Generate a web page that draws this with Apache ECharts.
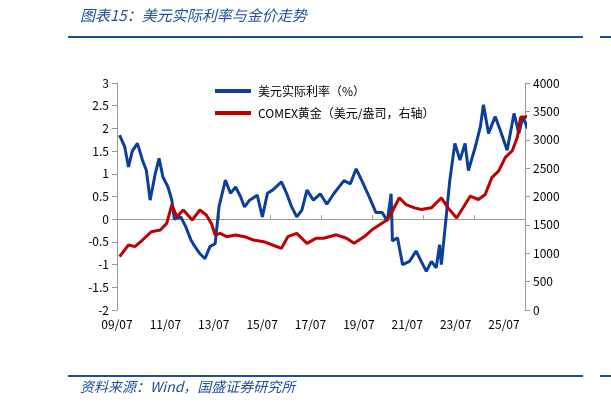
<!DOCTYPE html>
<html><head><meta charset="utf-8">
<script src="https://cdn.jsdelivr.net/npm/echarts@6/dist/echarts.min.js"></script>
<style>html,body{margin:0;padding:0;background:#fff}#c{width:611px;height:410px}</style>
</head><body><div id="c"></div>
<script>
const xTickLabels = ['09/07','11/07','13/07','15/07','17/07','19/07','21/07','23/07','25/07'];
const rateTimes = [2009.6,2009.8,2009.95,2010.1,2010.3,2010.5,2010.65,2010.8,2011.0,2011.15,2011.3,2011.5,2011.65,2011.75,2012.0,2012.2,2012.4,2012.55,2012.75,2012.95,2013.15,2013.35,2013.5,2013.75,2013.95,2014.15,2014.35,2014.5,2014.7,2015.0,2015.2,2015.4,2015.6,2015.95,2016.15,2016.35,2016.55,2016.75,2016.95,2017.2,2017.47,2017.73,2018.0,2018.4,2018.65,2018.88,2019.1,2019.4,2019.65,2019.9,2020.1,2020.25,2020.3,2020.5,2020.7,2020.97,2021.23,2021.43,2021.63,2021.83,2022.02,2022.15,2022.22,2022.42,2022.55,2022.75,2022.95,2023.15,2023.28,2023.55,2023.75,2023.87,2024.07,2024.33,2024.53,2024.8,2025.07,2025.26,2025.42,2025.6];
const rateValues = [1.85,1.6,1.15,1.5,1.67,1.3,1.08,0.42,1.0,1.34,0.93,0.71,0.42,0.0,0.05,-0.17,-0.46,-0.6,-0.76,-0.87,-0.6,-0.54,0.27,0.86,0.57,0.71,0.49,0.27,0.42,0.53,0.05,0.57,0.64,0.82,0.57,0.27,0.05,0.2,0.64,0.42,0.56,0.33,0.56,0.85,0.78,1.11,0.85,0.48,0.15,0.15,-0.04,0.56,-0.48,-0.41,-1.0,-0.93,-0.7,-0.93,-1.15,-0.93,-1.07,-0.56,-1.0,0.11,0.85,1.67,1.3,1.67,1.07,1.59,2.04,2.52,1.89,2.26,1.96,1.52,2.33,1.89,2.26,2.0];
const goldTimes = [2009.6,2009.95,2010.2,2010.5,2010.85,2011.2,2011.45,2011.65,2011.85,2012.1,2012.45,2012.75,2013.0,2013.2,2013.35,2013.55,2013.8,2014.15,2014.5,2014.85,2015.25,2015.6,2015.95,2016.2,2016.55,2016.95,2017.3,2017.6,2018.1,2018.5,2018.8,2019.2,2019.5,2019.8,2020.1,2020.3,2020.57,2020.83,2021.17,2021.43,2021.83,2022.22,2022.48,2022.82,2023.15,2023.35,2023.67,2023.94,2024.2,2024.47,2024.73,2025.0,2025.2,2025.33,2025.53,2025.65];
const goldValues = [940,1145,1116,1233,1380,1410,1527,1850,1645,1762,1586,1762,1674,1527,1322,1351,1292,1322,1292,1233,1204,1145,1087,1292,1351,1175,1263,1265,1325,1265,1176,1295,1413,1502,1591,1740,1977,1858,1800,1770,1800,1977,1800,1621,1858,2005,1947,2036,2333,2451,2689,2807,3045,3400,3400,3430];

const rateData = rateTimes.map((t,i)=>[t,rateValues[i]]);
const goldData = goldTimes.map((t,i)=>[t,goldValues[i]]);
const ff = '"Noto Sans CJK SC","DejaVu Sans",sans-serif';
const chart = echarts.init(document.getElementById('c'));
chart.setOption({
  animation:false,
  textStyle:{fontFamily:ff},
  grid:{left:117,right:86,top:83,bottom:100},
  legend:{
    orient:'vertical',left:210,top:80,itemGap:10,itemWidth:36,itemHeight:4,icon:'rect',
    textStyle:{fontSize:12,color:'#000',fontFamily:ff,padding:[0,0,0,2]},
    data:['美元实际利率（%）','COMEX黄金（美元/盎司，右轴）']
  },
  xAxis:[
    {type:'value',min:2009.5,max:2025.5,interval:2,
     axisLine:{onZero:true,lineStyle:{color:'#999'}},axisTick:{show:true,inside:true,length:4,lineStyle:{color:'#999'}},
     axisLabel:{show:false},splitLine:{show:false}},
    {type:'value',position:'bottom',min:0,max:8.434,interval:1,
     axisLine:{show:false},axisTick:{show:false},splitLine:{show:false},
     axisLabel:{fontSize:12,color:'#000',margin:8,fontFamily:ff,
       formatter:v=>Number.isInteger(v)&&xTickLabels[v]?xTickLabels[v]:''}}
  ],
  yAxis:[
    {type:'value',min:-2,max:3,interval:0.5,
     axisLine:{show:true,lineStyle:{color:'#999'}},axisTick:{show:true,length:5,lineStyle:{color:'#999'}},
     splitLine:{show:false},axisLabel:{fontSize:12,color:'#000',margin:8,fontFamily:ff}},
    {type:'value',min:0,max:4000,interval:500,
     axisLine:{show:true,lineStyle:{color:'#999'}},axisTick:{show:true,length:5,lineStyle:{color:'#999'}},
     splitLine:{show:false},axisLabel:{fontSize:12,color:'#000',margin:8,fontFamily:ff,formatter:v=>String(v)}}
  ],
  series:[
    {name:'美元实际利率（%）',type:'line',xAxisIndex:0,yAxisIndex:0,data:rateData,showSymbol:false,
     lineStyle:{color:'#0B3F99',width:3},itemStyle:{color:'#0B3F99'}},
    {name:'COMEX黄金（美元/盎司，右轴）',type:'line',xAxisIndex:0,yAxisIndex:1,data:goldData,showSymbol:false,
     lineStyle:{color:'#C00000',width:3},itemStyle:{color:'#C00000'}}
  ],
  graphic:[
    {type:'text',left:80,top:8,style:{text:'图表15：美元实际利率与金价走势',fontSize:15,fontStyle:'italic',fill:'#1F4E9A',fontFamily:ff}},
    {type:'rect',shape:{x:68,y:36,width:515,height:2},style:{fill:'#1F4E9A'}},
    {type:'rect',shape:{x:600,y:36,width:11,height:2},style:{fill:'#1F4E9A'}},
    {type:'rect',shape:{x:68,y:375,width:515,height:2},style:{fill:'#1F4E9A'}},
    {type:'rect',shape:{x:600,y:375,width:11,height:2},style:{fill:'#1F4E9A'}},
    {type:'text',left:80,top:380,style:{text:'资料来源：Wind，国盛证券研究所',fontSize:14,fontStyle:'italic',fill:'#1F4E9A',fontFamily:ff}}
  ]
});
</script></body></html>
